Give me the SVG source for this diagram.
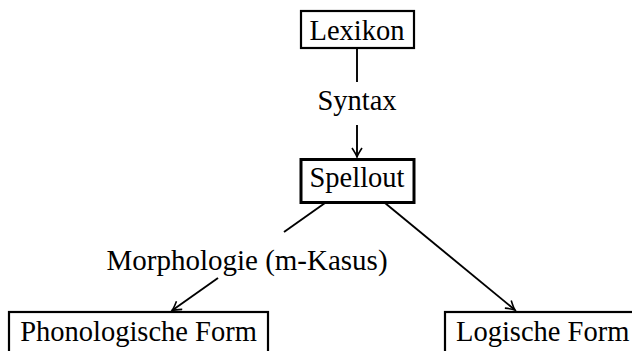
<svg xmlns="http://www.w3.org/2000/svg" width="632" height="351" viewBox="0 0 632 351">
<style>
text{font-family:"Liberation Serif","Times New Roman",serif;font-size:28.5px;fill:#000;text-anchor:middle}
.box{fill:#fff;stroke:#000;stroke-width:2.2}
.edge{fill:none;stroke:#000;stroke-width:1.9}
</style>
<defs>
<marker id="arr" viewBox="-10 -6 12 12" refX="0" refY="0" markerWidth="12" markerHeight="12" markerUnits="userSpaceOnUse" orient="auto">
<path d="M-9,-5 Q-3,-1 0,0 Q-3,1 -9,5" fill="none" stroke="#000" stroke-width="1.6"/>
</marker>
</defs>
<g id="connectors">
<line class="edge" x1="357" y1="48" x2="357" y2="82"/>
<line class="edge" x1="357" y1="125" x2="357" y2="157" marker-end="url(#arr)"/>
<line class="edge" x1="325" y1="203" x2="284" y2="232"/>
<line class="edge" x1="218" y1="278" x2="172" y2="310.5" marker-end="url(#arr)"/>
<line class="edge" x1="385" y1="203" x2="515" y2="310" marker-end="url(#arr)"/>
</g>
<g id="lexikon">
<rect class="box" x="301" y="11" width="113" height="37"/>
<text x="357" y="40">Lexikon</text>
</g>
<g id="syntax-label">
<text x="357" y="110">Syntax</text>
</g>
<g id="spellout">
<rect class="box" x="301" y="159.5" width="113" height="43" style="stroke-width:3"/>
<text x="357" y="187">Spellout</text>
</g>
<g id="morph-label">
<text x="247" y="270" style="font-size:29px">Morphologie (m-Kasus)</text>
</g>
<g id="pf">
<rect class="box" x="9" y="312" width="259" height="46"/>
<text x="138.5" y="341">Phonologische Form</text>
</g>
<g id="lf">
<rect class="box" x="445" y="312" width="200" height="46"/>
<text x="456" y="341" style="text-anchor:start">Logische Form</text>
</g>
</svg>
